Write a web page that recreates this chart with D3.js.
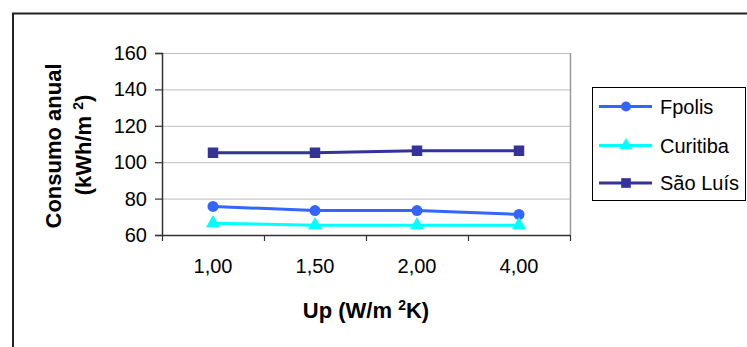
<!DOCTYPE html>
<html>
<head>
<meta charset="utf-8">
<script src="https://cdn.jsdelivr.net/npm/d3@7"></script>
<style>
  html, body { margin: 0; padding: 0; background: #fff; }
  svg { display: block; font-family: "Liberation Sans", Arial, sans-serif; }
</style>
</head>
<body>
<svg id="chart" width="747" height="347"></svg>
<script>
// Categories (Up values) and annual consumption per city
const categories = ["1,00", "1,50", "2,00", "4,00"];
const fpolis   = [75.7, 73.4, 73.4, 71.3];
const curitiba = [66.5, 65.4, 65.4, 65.4];
const saoLuis  = [105.2, 105.2, 106.3, 106.3];
const yTicks   = [60, 80, 100, 120, 140, 160];

const series = [
  { name: "Fpolis",   values: fpolis,   color: "#3366ff", symbol: d3.symbolCircle },
  { name: "Curitiba", values: curitiba, color: "#00ffff", symbol: d3.symbolTriangle },
  { name: "São Luís", values: saoLuis,  color: "#333399", symbol: d3.symbolSquare }
];

const svg = d3.select("#chart");
const plot = { left: 162, right: 570, top: 53, bottom: 235 };

// Outer chart frame (left and top edges visible)
svg.append("path")
  .attr("d", "M13,347 V13.5 H747")
  .attr("fill", "none").attr("stroke", "#222").attr("stroke-width", 2);

const x = d3.scaleBand().domain(categories).range([plot.left, plot.right]).padding(0);
const y = d3.scaleLinear().domain([60, 160]).range([plot.bottom, plot.top]);

// Horizontal gridlines
svg.append("g").selectAll("line").data(yTicks.filter(t => t > 60)).join("line")
  .attr("x1", plot.left).attr("x2", plot.right)
  .attr("y1", d => y(d) + 0.5).attr("y2", d => y(d) + 0.5)
  .attr("stroke", "#bdbdbd").attr("stroke-width", 1);

// Right border of the plot area
svg.append("line")
  .attr("x1", plot.right + 0.5).attr("x2", plot.right + 0.5)
  .attr("y1", plot.top).attr("y2", plot.bottom)
  .attr("stroke", "#9a9a9a").attr("stroke-width", 1.5);

// Y axis
const yAxis = svg.append("g")
  .attr("transform", `translate(${plot.left},0)`)
  .call(d3.axisLeft(y).tickValues(yTicks).tickSize(7).tickPadding(8));
yAxis.select(".domain").attr("stroke", "#333").attr("stroke-width", 1.5);
yAxis.selectAll(".tick line").attr("stroke", "#333").attr("stroke-width", 1.2);
yAxis.selectAll(".tick text").attr("font-size", 20).attr("fill", "#000")
  .attr("font-family", "Liberation Sans, Arial, sans-serif");

// X axis: ticks on category boundaries, labels centered in bands
const xAxis = svg.append("g").attr("transform", `translate(0,${plot.bottom})`);
const bounds = categories.map(c => x(c)).concat([plot.right]);
xAxis.append("line")
  .attr("x1", plot.left).attr("x2", plot.right).attr("y1", 0.5).attr("y2", 0.5)
  .attr("stroke", "#333").attr("stroke-width", 1.5);
xAxis.selectAll("line.tk").data(bounds).join("line").attr("class", "tk")
  .attr("x1", d => d + 0.5).attr("x2", d => d + 0.5).attr("y1", 0).attr("y2", 6)
  .attr("stroke", "#333").attr("stroke-width", 1.2);
xAxis.selectAll("text").data(categories).join("text")
  .attr("x", d => x(d) + x.bandwidth() / 2).attr("y", 38)
  .attr("text-anchor", "middle").attr("font-size", 20).attr("fill", "#000")
  .text(d => d);

// Lines and markers
const line = d3.line()
  .x((d, i) => x(categories[i]) + x.bandwidth() / 2)
  .y(d => y(d));

const symSize = { "Fpolis": 95, "Curitiba": 85, "São Luís": 110 };

series.forEach(s => {
  const g = svg.append("g");
  g.append("path").datum(s.values).attr("d", line)
    .attr("fill", "none").attr("stroke", s.color).attr("stroke-width", 3);
  g.selectAll("path.m").data(s.values).join("path").attr("class", "m")
    .attr("transform", (d, i) => `translate(${x(categories[i]) + x.bandwidth() / 2},${y(d)})`)
    .attr("d", d3.symbol().type(s.symbol).size(symSize[s.name]))
    .attr("fill", s.color);
});

// Axis titles
svg.append("text")
  .attr("transform", "translate(61,146) rotate(-90)")
  .attr("text-anchor", "middle").attr("font-size", 22).attr("font-weight", "bold")
  .text("Consumo anual");
const yt2 = svg.append("text")
  .attr("transform", "translate(91,145) rotate(-90)")
  .attr("text-anchor", "middle").attr("font-size", 22).attr("font-weight", "bold");
yt2.append("tspan").text("(kWh/m ");
yt2.append("tspan").attr("font-size", 14).attr("dy", -8).text("2");
yt2.append("tspan").attr("dy", 8).text(")");

const xt = svg.append("text")
  .attr("x", 366).attr("y", 318)
  .attr("text-anchor", "middle").attr("font-size", 22).attr("font-weight", "bold");
xt.append("tspan").text("Up (W/m ");
xt.append("tspan").attr("font-size", 14).attr("dy", -8).text("2");
xt.append("tspan").attr("dy", 8).text("K)");

// Legend
const legend = svg.append("g");
legend.append("rect")
  .attr("x", 592.5).attr("y", 87.5).attr("width", 153).attr("height", 113)
  .attr("fill", "#fff").attr("stroke", "#000").attr("stroke-width", 1);
const legY = [106.5, 145.5, 183];
series.forEach((s, i) => {
  const gy = legY[i];
  legend.append("line").attr("x1", 599).attr("x2", 652).attr("y1", gy).attr("y2", gy)
    .attr("stroke", s.color).attr("stroke-width", 3);
  legend.append("path")
    .attr("transform", `translate(626,${gy})`)
    .attr("d", d3.symbol().type(s.symbol).size(symSize[s.name] * 0.85))
    .attr("fill", s.color);
  legend.append("text").attr("x", 660).attr("y", gy + 7)
    .attr("font-size", 20).attr("fill", "#000").text(s.name);
});
</script>
</body>
</html>
